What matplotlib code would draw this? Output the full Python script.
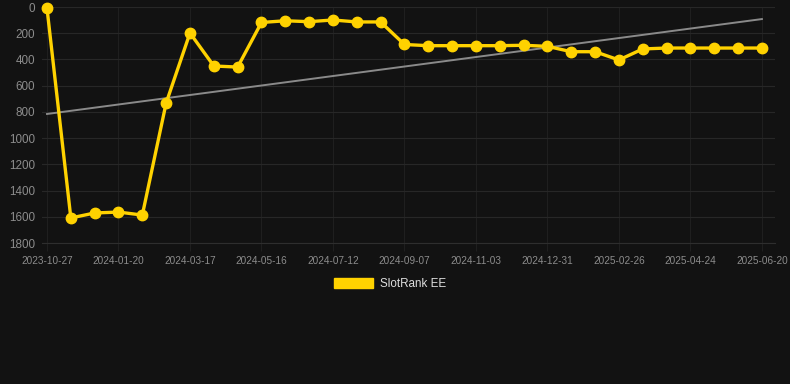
import numpy as np
import matplotlib
matplotlib.use("Agg")
import matplotlib.pyplot as plt
from matplotlib.patches import Patch

plt.rcParams['font.family'] = ['Liberation Sans', 'DejaVu Sans']

# data (rank, lower is better)
tick_labels = ["2023-10-27", "2024-01-20", "2024-03-17", "2024-05-16", "2024-07-12",
               "2024-09-07", "2024-11-03", "2024-12-31", "2025-02-26", "2025-04-24",
               "2025-06-20"]
rank = [10, 1609, 1571, 1564, 1587, 732, 198, 450, 458, 118,
        105, 112, 99, 114, 114, 286, 295, 295, 295, 295,
        292, 300, 341, 341, 404, 320, 313, 313, 313, 313, 313]
trend = [816, 92]

bg = "#121212"
yellow = "#FFD200"

x = np.arange(len(rank))

fig = plt.figure(figsize=(7.9, 3.84), dpi=100, facecolor=bg)
ax = fig.add_axes([42/790, 1-243/384, 733/790, 236/384], facecolor=bg)

ax.plot([x[0], x[-1]], trend, color="#8a8a8a", lw=1.4, zorder=2)
ax.plot(x, rank, color=yellow, lw=2.4, marker="o", ms=7.5, zorder=3, clip_on=False)

ax.set_ylim(1800, 0)
ax.set_xlim(-0.21, 30.55)
ax.set_yticks(np.arange(0, 1801, 200))
ax.set_xticks(x[::3])
ax.set_xticklabels(tick_labels)

ax.grid(True, axis="y", color="#272727", lw=0.8)
ax.grid(True, axis="x", color="#1f1f1f", lw=0.8)
ax.set_axisbelow(True)
for s in ax.spines.values():
    s.set_visible(False)
ax.spines["bottom"].set_visible(True)
ax.spines["bottom"].set_color("#2e2e2e")
ax.tick_params(axis="y", colors="#8c8c8c", labelsize=8.4, length=0, pad=5)
ax.tick_params(axis="x", colors="#1f1f1f", labelcolor="#8c8c8c", labelsize=7.2,
               length=6, width=0.8, pad=3)

leg = fig.legend(handles=[Patch(facecolor=yellow, edgecolor=yellow)], labels=["SlotRank EE"],
                 loc="center", bbox_to_anchor=(390/790, 1-284/384), frameon=False,
                 handlelength=3.4, handleheight=0.9, fontsize=8.4, labelcolor="#dddddd",
                 handletextpad=0.6)

fig.savefig("out.png", dpi=100, facecolor=bg)
